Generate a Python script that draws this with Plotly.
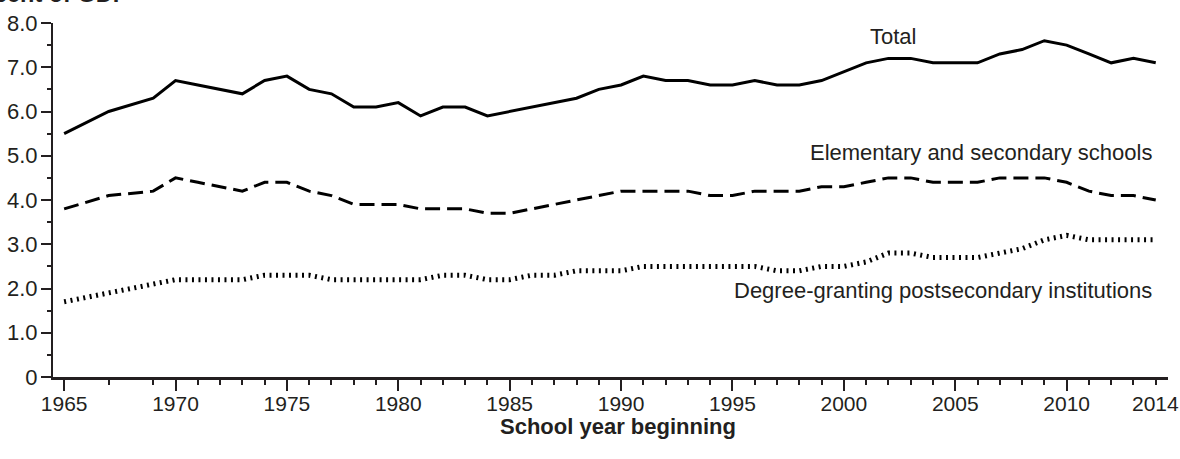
import plotly.graph_objects as go

years = [1965, 1967, 1969] + list(range(1970, 2015))

total = [5.5, 6.0, 6.3, 6.7, 6.6, 6.5, 6.4, 6.7, 6.8, 6.5, 6.4, 6.1, 6.1, 6.2, 5.9,
         6.1, 6.1, 5.9, 6.0, 6.1, 6.2, 6.3, 6.5, 6.6, 6.8, 6.7, 6.7, 6.6, 6.6, 6.7,
         6.6, 6.6, 6.7, 6.9, 7.1, 7.2, 7.2, 7.1, 7.1, 7.1, 7.3, 7.4, 7.6, 7.5, 7.3,
         7.1, 7.2, 7.1]
elem_sec = [3.8, 4.1, 4.2, 4.5, 4.4, 4.3, 4.2, 4.4, 4.4, 4.2, 4.1, 3.9, 3.9, 3.9, 3.8,
            3.8, 3.8, 3.7, 3.7, 3.8, 3.9, 4.0, 4.1, 4.2, 4.2, 4.2, 4.2, 4.1, 4.1, 4.2,
            4.2, 4.2, 4.3, 4.3, 4.4, 4.5, 4.5, 4.4, 4.4, 4.4, 4.5, 4.5, 4.5, 4.4, 4.2,
            4.1, 4.1, 4.0]
postsec = [1.7, 1.9, 2.1, 2.2, 2.2, 2.2, 2.2, 2.3, 2.3, 2.3, 2.2, 2.2, 2.2, 2.2, 2.2,
           2.3, 2.3, 2.2, 2.2, 2.3, 2.3, 2.4, 2.4, 2.4, 2.5, 2.5, 2.5, 2.5, 2.5, 2.5,
           2.4, 2.4, 2.5, 2.5, 2.6, 2.8, 2.8, 2.7, 2.7, 2.7, 2.8, 2.9, 3.1, 3.2, 3.1,
           3.1, 3.1, 3.1]

series_names = ["Total", "Elementary and secondary schools",
                "Degree-granting postsecondary institutions"]

x_major = [1965, 1970, 1975, 1980, 1985, 1990, 1995, 2000, 2005, 2010]
x_last_label = "2014"
y_major = [0, 1, 2, 3, 4, 5, 6, 7, 8]
y_labels = ["0", "1.0", "2.0", "3.0", "4.0", "5.0", "6.0", "7.0", "8.0"]
y_minor = [0.5, 1.5, 2.5, 3.5, 4.5, 5.5, 6.5, 7.5]

INK = "#231f20"
FONT = "Liberation Sans, Arial, Helvetica, sans-serif"

fig = go.Figure()
fig.add_trace(go.Scatter(x=years, y=total, mode="lines", name=series_names[0],
                         line=dict(color="black", width=3)))
fig.add_trace(go.Scatter(x=years, y=elem_sec, mode="lines", name=series_names[1],
                         line=dict(color="black", width=3, dash="15px,7px")))
fig.add_trace(go.Scatter(x=years, y=postsec, mode="lines", name=series_names[2],
                         line=dict(color="black", width=5, dash="2px,4.5px")))

x_minor = [y for y in years if y not in x_major]

fig.update_layout(
    template="none",
    width=1180, height=459,
    margin=dict(l=53, r=12, t=23, b=82, autoexpand=False),
    paper_bgcolor="white", plot_bgcolor="white",
    showlegend=False,
    font=dict(family=FONT, color=INK, size=22),
    xaxis=dict(
        range=[1964.5, 2014.55], showgrid=False, zeroline=False, automargin=False,
        showline=True, linecolor=INK, linewidth=2.5,
        tickmode="array", tickvals=x_major, ticktext=[str(v) for v in x_major],
        ticks="outside", ticklen=11, tickwidth=1.5, tickcolor=INK,
        tickfont=dict(size=21, family=FONT, color=INK),
        ticklabelstandoff=-5,
        minor=dict(tickmode="array", tickvals=x_minor, ticks="outside",
                   ticklen=5, tickwidth=1.5, tickcolor=INK),
        fixedrange=True,
    ),
    yaxis=dict(
        range=[0, 8], showgrid=False, zeroline=False, automargin=False,
        showline=True, linecolor=INK, linewidth=2,
        tickmode="array", tickvals=y_major, ticktext=y_labels,
        ticks="outside", ticklen=10, tickwidth=1.5, tickcolor=INK,
        tickfont=dict(size=22, family=FONT, color=INK),
        ticklabelstandoff=-1,
        minor=dict(tickmode="array", tickvals=y_minor, ticks="outside",
                   ticklen=4, tickwidth=1.5, tickcolor=INK),
        fixedrange=True,
    ),
)

annotations = [
    dict(text=x_last_label, x=2014, y=0, xref="x", yref="y", yanchor="top",
         xanchor="center", yshift=-13, showarrow=False,
         font=dict(size=21, family=FONT, color=INK)),
    dict(text=series_names[0], x=2002.2, y=7.69, xref="x", yref="y",
         xanchor="center", yanchor="middle", showarrow=False,
         font=dict(size=22, family=FONT, color=INK)),
    dict(text=series_names[1], x=2013.9, y=5.07, xref="x", yref="y",
         xanchor="right", yanchor="middle", showarrow=False,
         font=dict(size=22, family=FONT, color=INK)),
    dict(text=series_names[2], x=2013.9, y=1.95, xref="x", yref="y",
         xanchor="right", yanchor="middle", showarrow=False,
         font=dict(size=22, family=FONT, color=INK)),
    dict(text="<b>School year beginning</b>", x=0.507, y=-0.14, xref="paper", yref="paper",
         xanchor="center", yanchor="middle", showarrow=False,
         font=dict(size=22, family=FONT, color=INK)),
    dict(text="<b>Percent of GDP</b>", x=0.0691, y=1.0395, xref="paper", yref="paper",
         xanchor="right", yanchor="bottom", showarrow=False,
         font=dict(size=23.5, family=FONT, color=INK)),
]
fig.update_layout(annotations=annotations)

fig.write_html("out.html", config={"displayModeBar": False},
               post_script="document.body.style.margin='0px';")
